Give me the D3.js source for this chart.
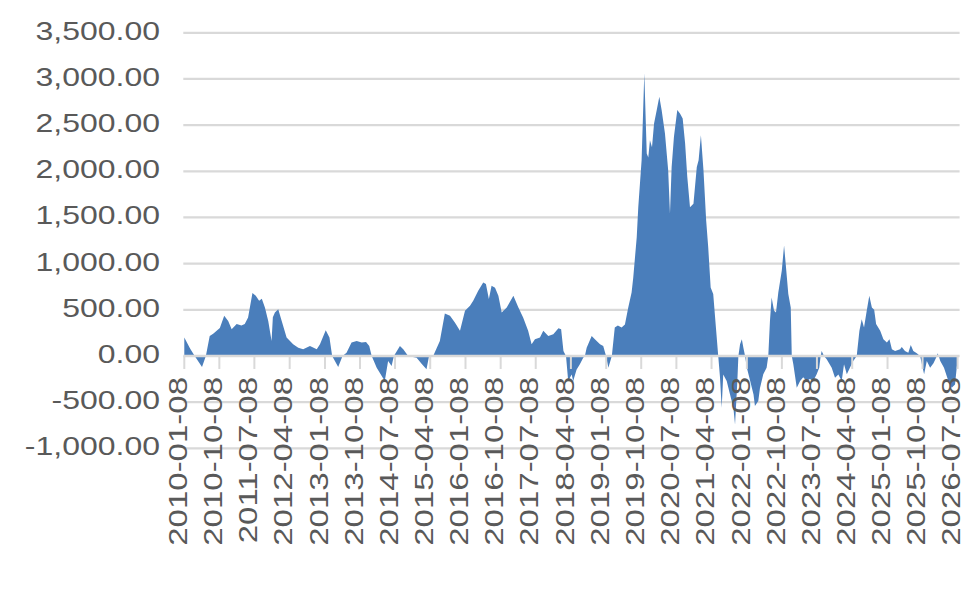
<!DOCTYPE html>
<html>
<head>
<meta charset="utf-8">
<script src="https://cdn.jsdelivr.net/npm/d3@7"></script>
<style>
  html, body { margin: 0; padding: 0; background: #ffffff; }
  svg { display: block; }
</style>
</head>
<body>
<svg id="chart" width="980" height="606"></svg>
<script>
const dates = [
"2010-01-08","2010-02-22","2010-03-30","2010-05-26","2010-06-25","2010-07-25","2010-08-21","2010-10-12","2010-11-15","2010-12-16",
"2011-01-12","2011-02-20","2011-03-29","2011-04-24","2011-05-20","2011-06-23","2011-07-19","2011-08-14","2011-09-04","2011-09-28",
"2011-10-24","2011-11-19","2011-11-29","2011-12-15","2012-01-10","2012-02-06","2012-03-15","2012-05-05","2012-06-14","2012-07-22",
"2012-09-13","2012-11-05","2012-11-30","2013-01-14","2013-02-12","2013-03-05","2013-04-21","2013-05-25","2013-06-25","2013-08-03",
"2013-09-12","2013-10-21","2013-11-24","2013-12-19","2014-01-07","2014-02-15","2014-04-06","2014-04-19","2014-05-15","2014-06-11",
"2014-06-29","2014-08-15","2014-09-10","2014-10-18","2014-12-23","2015-02-03","2015-03-10","2015-03-30","2015-05-01","2015-06-22",
"2015-07-31","2015-09-09","2015-10-17","2015-11-26","2016-01-04","2016-02-12","2016-03-08","2016-04-16","2016-05-25","2016-06-15",
"2016-07-08","2016-07-29","2016-08-25","2016-09-20","2016-10-16","2016-11-24","2017-01-15","2017-02-23","2017-04-01","2017-05-10",
"2017-06-06","2017-07-02","2017-08-10","2017-09-05","2017-10-14","2017-11-22","2018-01-01","2018-01-22","2018-02-09","2018-03-01",
"2018-03-18","2018-04-14","2018-04-26","2018-05-22","2018-06-17","2018-07-13","2018-07-26","2018-08-09","2018-09-17","2018-10-12",
"2018-11-21","2018-12-16","2019-01-07","2019-01-25","2019-02-21","2019-03-16","2019-04-09","2019-05-08","2019-06-03","2019-06-29",
"2019-07-25","2019-08-07","2019-09-03","2019-09-15","2019-10-11","2019-11-01","2019-11-20","2019-12-02","2019-12-15","2019-12-31",
"2020-01-16","2020-02-06","2020-02-26","2020-03-15","2020-04-10","2020-05-05","2020-05-19","2020-06-01","2020-06-19","2020-07-15",
"2020-08-05","2020-08-26","2020-09-14","2020-10-01","2020-10-22","2020-11-18","2020-12-14","2020-12-28","2021-01-15","2021-02-04",
"2021-02-25","2021-03-13","2021-04-01","2021-04-21","2021-05-12","2021-05-30","2021-06-13","2021-06-26","2021-07-08","2021-08-04",
"2021-08-30","2021-09-25","2021-10-08","2021-10-26","2021-11-03","2021-11-16","2021-11-30","2021-12-12","2021-12-25","2022-01-08",
"2022-02-03","2022-03-01","2022-03-12","2022-04-07","2022-04-20","2022-05-16","2022-06-11","2022-06-24","2022-07-07","2022-07-20",
"2022-08-08","2022-08-23","2022-09-10","2022-10-07","2022-10-25","2022-11-09","2022-11-27","2022-12-16","2022-12-24","2023-01-05",
"2023-02-01","2023-02-27","2023-03-23","2023-04-19","2023-05-14","2023-06-09","2023-07-06","2023-07-26","2023-08-06","2023-08-14",
"2023-09-01","2023-09-22","2023-10-31","2023-11-26","2023-12-22","2024-01-17","2024-02-04","2024-02-26","2024-03-21","2024-04-16",
"2024-05-13","2024-06-03","2024-06-21","2024-07-09","2024-07-30","2024-08-19","2024-09-08","2024-09-26","2024-10-11","2024-11-12",
"2024-12-07","2025-01-03","2025-01-23","2025-02-11","2025-03-08","2025-04-16","2025-04-29","2025-05-24","2025-06-19","2025-07-08",
"2025-07-28","2025-08-24","2025-09-19","2025-10-20","2025-11-10","2025-12-06","2026-01-01","2026-01-28","2026-02-02","2026-02-11",
"2026-02-23","2026-03-24","2026-04-27","2026-05-23","2026-06-18","2026-07-01","2026-07-08"
];
const values = [
199,80,0,-120,0,217,240,304,435,380,
290,346,330,346,417,681,652,598,620,525,
380,163,420,471,507,380,199,127,90,72,
109,72,127,279,199,0,-120,0,36,145,
163,145,150,109,0,-127,-240,-272,-54,-109,
0,109,72,0,-18,-90,-145,0,0,163,
460,435,362,272,489,543,598,707,797,780,
616,761,740,652,471,525,652,525,417,272,
127,181,199,272,217,235,301,290,54,0,
-272,-200,-272,-150,-90,-18,0,90,217,181,
127,109,0,-127,0,308,330,308,340,525,
688,851,1286,1612,2120,3062,2192,2150,2337,2260,
2518,2663,2808,2663,2410,2011,1540,2047,2373,2663,
2627,2572,2301,1938,1612,1649,2047,2120,2391,2011,
1467,1177,742,670,308,0,-236,-562,-200,-270,
-417,-562,-743,-272,0,127,181,90,0,-127,
-272,-417,-543,-489,-350,-199,-127,0,380,634,
489,470,688,924,1196,960,670,525,0,-90,
-344,-272,-230,-272,-250,-272,-199,-127,0,54,
0,-36,-127,-236,-200,-272,-90,-199,-127,-54,
0,272,399,308,489,652,525,500,345,272,
181,145,181,72,54,72,98,54,36,120,
54,30,0,-199,-54,-127,-80,0,30,0,
-54,-127,-272,-344,-310,-127,-50
];
const xTickLabels = [
"2010-01-08","2010-10-08","2011-07-08","2012-04-08","2013-01-08","2013-10-08","2014-07-08","2015-04-08",
"2016-01-08","2016-10-08","2017-07-08","2018-04-08","2019-01-08","2019-10-08","2020-07-08","2021-04-08",
"2022-01-08","2022-10-08","2023-07-08","2024-04-08","2025-01-08","2025-10-08","2026-07-08"
];
const yTicks = [-1000,-500,0,500,1000,1500,2000,2500,3000,3500];

(function () {
const parse = d3.timeParse("%Y-%m-%d");
const data = dates.map((d, i) => ({ date: parse(d), value: values[i] }));
const tickDates = xTickLabels.map(parse);

const svg = d3.select("#chart");
const plotLeft = 184.3, plotRight = 957.6, plotTop = 32.8, plotBottom = 448.3;

const x = d3.scaleTime().domain([parse("2010-01-08"), parse("2026-07-08")]).range([plotLeft, plotRight]);
const y = d3.scaleLinear().domain([-1000, 3500]).range([plotBottom, plotTop]);

const textColor = "#595959";
const gridColor = "#d9d9d9";
const font = "'Liberation Sans', Arial, sans-serif";

// gridlines
svg.append("g")
  .selectAll("line")
  .data(yTicks.filter(v => v !== 0))
  .join("line")
  .attr("x1", plotLeft - 1).attr("x2", plotRight + 2)
  .attr("y1", d => y(d)).attr("y2", d => y(d))
  .attr("stroke", gridColor).attr("stroke-width", 2.2);

// area
const area = d3.area()
  .x(d => x(d.date))
  .y0(y(0))
  .y1(d => y(d.value));
svg.append("path")
  .datum(data)
  .attr("d", area)
  .attr("fill", "#4a7ebb");

// zero axis line + tick marks
svg.append("line")
  .attr("x1", plotLeft - 1).attr("x2", plotRight + 2)
  .attr("y1", y(0)).attr("y2", y(0))
  .attr("stroke", gridColor).attr("stroke-width", 2.5);
svg.append("g")
  .selectAll("line")
  .data(tickDates)
  .join("line")
  .attr("x1", d => x(d)).attr("x2", d => x(d))
  .attr("y1", y(0)).attr("y2", y(0) + 13)
  .attr("stroke", gridColor).attr("stroke-width", 2);

// y labels (ASCII hyphen-minus, as in the original)
const fmt = d3.formatLocale({ decimal: ".", thousands: ",", grouping: [3], currency: ["", ""], minus: "-" }).format(",.2f");
svg.append("g")
  .selectAll("text")
  .data(yTicks)
  .join("text")
  .attr("transform", d => `translate(160,${y(d) + 7}) scale(1.28,1)`)
  .attr("text-anchor", "end")
  .attr("font-family", font)
  .attr("font-size", 25)
  .attr("fill", textColor)
  .text(d => fmt(d));

// x labels
const xfmt = d3.timeFormat("%Y-%m-%d");
svg.append("g")
  .selectAll("text")
  .data(tickDates)
  .join("text")
  .attr("transform", d => `translate(${x(d) + 2.7},377) rotate(-90) scale(1.32,1)`)
  .attr("text-anchor", "end")
  .attr("font-family", font)
  .attr("font-size", 25)
  .attr("fill", textColor)
  .text(d => xfmt(d));
})();
</script>
</body>
</html>
